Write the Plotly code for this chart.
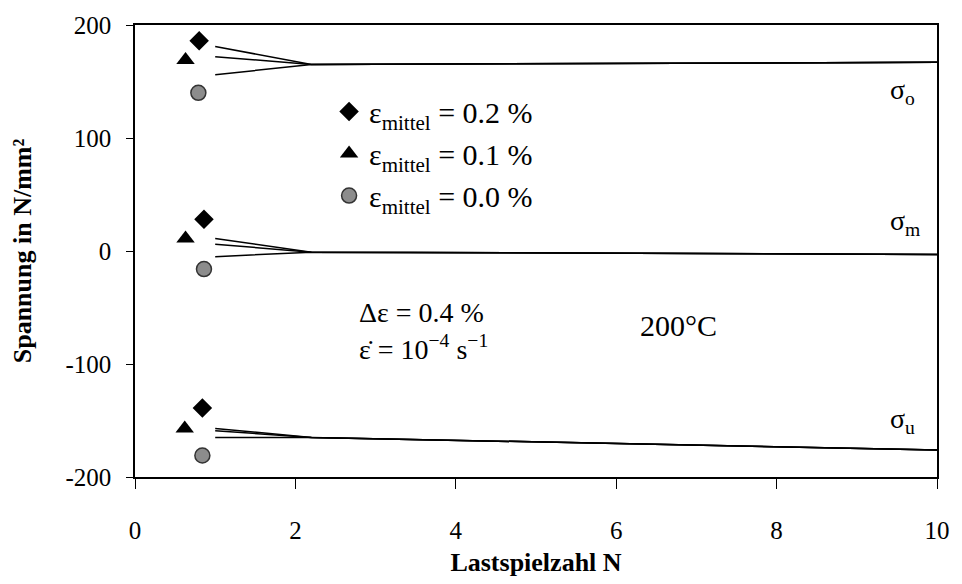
import plotly.graph_objects as go

# ---- data ----
values_label = ["0.2", "0.1", "0.0"]
series_names = [
    f'<span style="font-size:30px">ε<sub>mittel</sub> = {v} %</span>'
    for v in values_label
]
marker_symbols = ["diamond", "triangle-up", "circle"]

# first-cycle markers (N, stress) for sigma_o, sigma_m, sigma_u
marker_N = [
    [0.80, 0.86, 0.84],
    [0.63, 0.63, 0.62],
    [0.79, 0.86, 0.84],
]
marker_S = [
    [186, 28, -139],
    [169, 11, -157],
    [140, -16, -181],
]

# curves from N=1 on
line_N = [1, 2.2, 10]
sigma_o = [[181, 165, 167], [172, 165, 167], [156, 165, 167]]
sigma_m = [[11, -1, -3], [6, -1, -3], [-5, -1, -3]]
sigma_u = [[-157, -165, -176], [-159, -165, -176], [-165, -165, -176]]

x_ticks = [0, 2, 4, 6, 8, 10]
y_ticks = [-200, -100, 0, 100, 200]
y_tick_text = ["-200", "-100", "0", "100", "200"]

FONT = "Liberation Serif, Times New Roman, serif"
NB = "\u00a0"

fig = go.Figure()

# lines
for grp in (sigma_o, sigma_m, sigma_u):
    for vals in grp:
        fig.add_trace(go.Scatter(x=line_N, y=vals, mode="lines",
                                 line=dict(color="black", width=1.5),
                                 showlegend=False, hoverinfo="skip"))

marker_styles = [
    dict(color="black", size=15, line=dict(width=0)),
    dict(color="black", size=16, line=dict(width=0)),
    dict(color="#8c8c8c", size=15, line=dict(color="#333333", width=1.5)),
]

for i in range(3):
    fig.add_trace(go.Scatter(x=marker_N[i], y=marker_S[i], mode="markers",
                             name=series_names[i],
                             marker=dict(symbol=marker_symbols[i], **marker_styles[i])))

annotations = [
    dict(x=9.57, y=141, text="σ<sub>o</sub>"),
    dict(x=9.6, y=25, text="σ<sub>m</sub>"),
    dict(x=9.57, y=-150, text="σ<sub>u</sub>"),
    dict(x=2.77, y=-54.5, text=f"Δε{NB}={NB}0.4{NB}%", xanchor="left", font_size=28),
    dict(x=2.77, y=-85, text=f"ε̇{NB}={NB}10<sup>−4</sup>{NB}s<sup>−1</sup>", xanchor="left", font_size=28),
    dict(x=6.78, y=-66, text="200°C", font_size=30),
]
for a in annotations:
    a.setdefault("xanchor", "center")
    fs = a.pop("font_size", 28)
    fig.add_annotation(xref="x", yref="y", showarrow=False,
                       font=dict(family=FONT, size=fs, color="black"), **a)

fig.update_layout(
    width=962, height=584,
    margin=dict(l=135, r=17, t=22, b=107),
    paper_bgcolor="white", plot_bgcolor="white",
    font=dict(family=FONT, size=24, color="black"),
    showlegend=True,
    legend=dict(x=0.242, y=0.866, xanchor="left", yanchor="top",
                bgcolor="rgba(0,0,0,0)", font=dict(family=FONT, size=30),
                tracegroupgap=0, itemsizing="trace"),
)
fig.update_xaxes(range=[0, 10], tickvals=x_ticks, ticks="outside", ticklen=10,
                 tickcolor="black", showline=True, linecolor="black", linewidth=1.5,
                 mirror=True, showgrid=False, zeroline=False,
                 ticklabelstandoff=20, tickfont=dict(family=FONT, size=25),
                 title=dict(text="<b>Lastspielzahl N</b>", font=dict(family=FONT, size=26),
                            standoff=10))
fig.update_yaxes(range=[-200, 200], tickvals=y_ticks, ticktext=y_tick_text,
                 ticks="outside", ticklen=7,
                 tickcolor="black", showline=True, linecolor="black", linewidth=1.5,
                 mirror=True, showgrid=False, zeroline=False,
                 ticklabelstandoff=10, tickfont=dict(family=FONT, size=25),
                 title=dict(text="<b>Spannung in N/mm²</b>", font=dict(family=FONT, size=26),
                            standoff=26))

fig.write_html("out.html")
